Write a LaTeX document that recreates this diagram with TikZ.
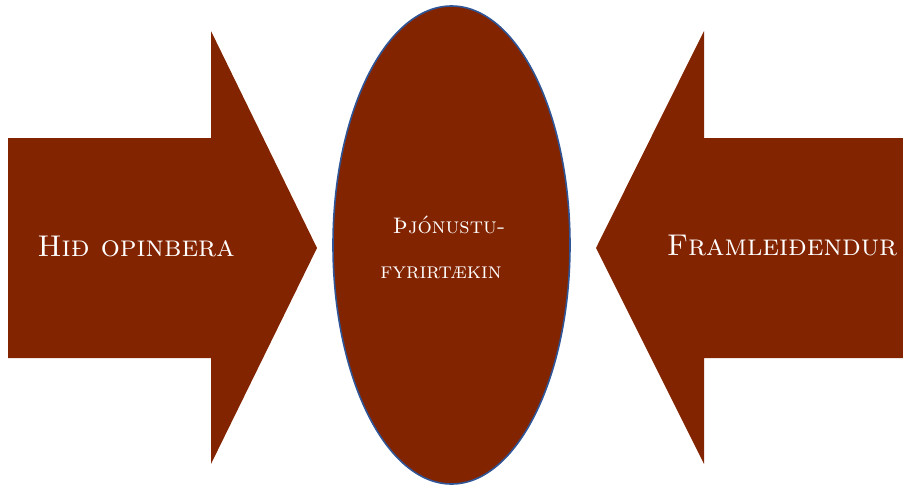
\documentclass[tikz,border=0pt]{standalone}
\usetikzlibrary{calc}
\definecolor{arrowfill}{RGB}{131,36,0}
\definecolor{ovalborder}{RGB}{47,85,151}

\begin{document}
\begin{tikzpicture}[
  x=1pt, y=-1pt,
  bigarrow/.style={fill=arrowfill, draw=none},
  oval/.style={fill=arrowfill, draw=ovalborder, line width=1.6pt},
  lbl/.style={text=white, inner sep=0pt, anchor=base,
    font=\fontsize{30}{36}\selectfont\scshape},
  ovallbl/.style={lbl, font=\fontsize{22.5}{27}\selectfont\scshape}
]

\useasboundingbox (0,0) rectangle (903,485);

% ========== Left arrow ==========
\fill[bigarrow] (8,138) -- (211,138) -- (211,31) -- (317,248)
  -- (211,464) -- (211,358) -- (8,358) -- cycle;
\node[lbl] (gov) at (136,256) {Hið opinbera};

% ========== Centre oval ==========
\draw[oval] (451.5,245) ellipse [x radius=118.5, y radius=239];
\node[ovallbl] (svc1) at (449,233) {Þjónustu-};
\node[ovallbl] (svc2) at (441,278) {fyrirtækin};

% ========== Right arrow ==========
\fill[bigarrow] (903,138) -- (704,138) -- (704,31) -- (596,248)
  -- (704,464) -- (704,358) -- (903,358) -- cycle;
\node[lbl] (prod) at (782,255) {Framleiðendur};

\end{tikzpicture}
\end{document}
